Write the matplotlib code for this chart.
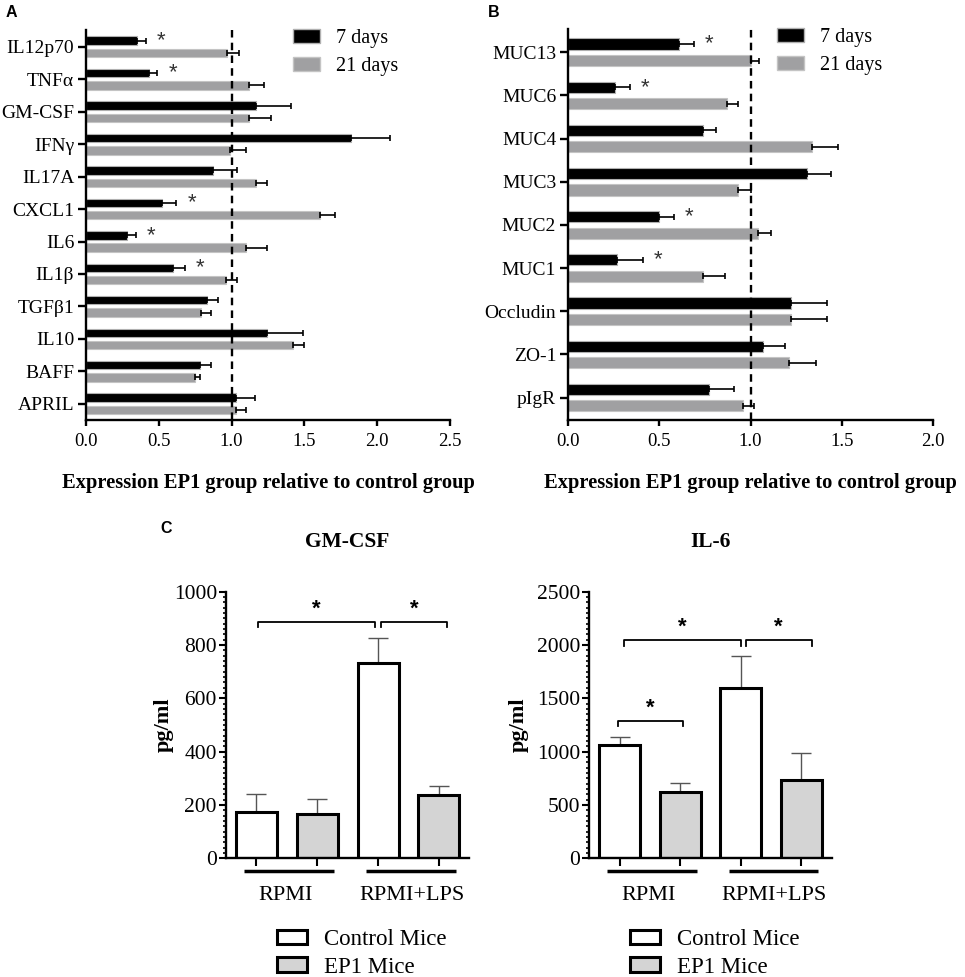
import matplotlib
matplotlib.use('Agg')
import matplotlib.pyplot as plt
import numpy as np
from matplotlib.patches import Patch
import matplotlib.transforms as mtransforms
from matplotlib.ticker import MultipleLocator

plt.rcParams['font.family'] = ['Liberation Serif', 'DejaVu Serif']

# ---------------- data ----------------
a_cats = ['IL12p70', 'TNFα', 'GM-CSF', 'IFNγ', 'IL17A', 'CXCL1', 'IL6', 'IL1β',
          'TGFβ1', 'IL10', 'BAFF', 'APRIL']
a_7d = [0.35, 0.43, 1.17, 1.82, 0.87, 0.52, 0.28, 0.60, 0.83, 1.24, 0.78, 1.03]
a_7d_err = [0.06, 0.06, 0.24, 0.27, 0.17, 0.10, 0.06, 0.08, 0.08, 0.25, 0.08, 0.13]
a_21d = [0.97, 1.12, 1.12, 0.99, 1.17, 1.61, 1.10, 0.96, 0.79, 1.42, 0.75, 1.03]
a_21d_err = [0.08, 0.10, 0.15, 0.11, 0.07, 0.10, 0.14, 0.08, 0.07, 0.08, 0.03, 0.07]
a_sig = ['IL12p70', 'TNFα', 'CXCL1', 'IL6', 'IL1β']
a_xticks = [0.0, 0.5, 1.0, 1.5, 2.0, 2.5]

b_cats = ['MUC13', 'MUC6', 'MUC4', 'MUC3', 'MUC2', 'MUC1', 'Occludin', 'ZO-1', 'pIgR']
b_7d = [0.61, 0.26, 0.74, 1.31, 0.50, 0.27, 1.22, 1.07, 0.77]
b_7d_err = [0.08, 0.08, 0.07, 0.13, 0.08, 0.14, 0.20, 0.12, 0.14]
b_21d = [1.00, 0.87, 1.335, 0.93, 1.04, 0.74, 1.22, 1.21, 0.96]
b_21d_err = [0.045, 0.06, 0.145, 0.07, 0.07, 0.12, 0.20, 0.15, 0.06]
b_sig = ['MUC13', 'MUC6', 'MUC2', 'MUC1']
b_xticks = [0.0, 0.5, 1.0, 1.5, 2.0]

series_labels = ['7 days', '21 days']

c_groups = ['RPMI', 'RPMI+LPS']
c_series = ['Control Mice', 'EP1 Mice']
gm_control = [172, 731]
gm_control_err = [70, 94]
gm_ep1 = [165, 237]
gm_ep1_err = [58, 35]
il6_control = [1062, 1594]
il6_control_err = [72, 306]
il6_ep1 = [624, 734]
il6_ep1_err = [85, 253]

# ---------------- figure ----------------
W, H = 965, 977
fig = plt.figure(figsize=(W / 100, H / 100), dpi=100)


def ax_px(l, t, r, b):
    return fig.add_axes([l / W, 1 - b / H, (r - l) / W, (b - t) / H])


BLACK = '#000000'
GRAY = '#a0a0a2'
LIGHT = '#d4d4d4'


def hbar_panel(ax, cats, v7, e7, v21, e21, sig, xticks, xmax, ylim_pad):
    n = len(cats)
    y = np.arange(n)
    off = 0.19
    h = 0.26
    ax.barh(y - off, v7, height=h, color=BLACK, edgecolor='#b0b0b0', linewidth=0.8,
            label=series_labels[0], zorder=2)
    ax.barh(y + off, v21, height=h, color=GRAY, edgecolor='#c4c4c4', linewidth=0.8,
            label=series_labels[1], zorder=2)
    z = np.zeros(n)
    ax.errorbar(v7, y - off, xerr=[z, e7], fmt='none', ecolor='black',
                elinewidth=1.2, capsize=2.5, capthick=1.2, zorder=3)
    ax.errorbar(v21, y + off, xerr=[z, e21], fmt='none', ecolor='black',
                elinewidth=1.2, capsize=2.5, capthick=1.2, zorder=3)
    for i, c in enumerate(cats):
        if c in sig:
            ax.annotate('*', xy=(v7[i] + e7[i], y[i] - off), xytext=(11, 0),
                        textcoords='offset points', ha='center', va='center',
                        fontsize=16, color='#333333', family='Liberation Sans')
    ax.axvline(1.0, color='black', lw=1.7, dashes=(3.2, 2.2), zorder=4)
    ax.set_xlim(0, xmax)
    ax.set_ylim(n - 1 + ylim_pad, -ylim_pad - 0.02)
    ax.set_yticks(y)
    ax.set_yticklabels(cats, fontsize=14)
    ax.set_xticks(xticks)
    ax.set_xticklabels([f'{t:.1f}' for t in xticks], fontsize=13.5)
    for s in ['top', 'right']:
        ax.spines[s].set_visible(False)
    for s in ['left', 'bottom']:
        ax.spines[s].set_linewidth(1.7)
    ax.tick_params(axis='y', length=6, width=1.7, pad=2.5)
    ax.tick_params(axis='x', length=4, width=1.7, pad=5)
    ax.text(0.5, -0.162, 'Expression EP1 group relative to control group',
            transform=ax.transAxes, ha='center', va='center', fontsize=14.8,
            fontweight='bold')


# Panel A
axA = ax_px(86, 30, 450, 420)
hbar_panel(axA, a_cats, a_7d, a_7d_err, a_21d, a_21d_err, a_sig, a_xticks, 2.5, 0.5)
hA = [Patch(facecolor=BLACK, edgecolor='#b0b0b0'), Patch(facecolor=GRAY, edgecolor='#c4c4c4')]
fig.legend(hA, series_labels, loc='upper left', bbox_to_anchor=(293 / W, 1 - 29 / H),
           frameon=False, fontsize=14.5, handlelength=1.35, handleheight=0.7,
           handletextpad=0.8, labelspacing=0.42, borderpad=0, borderaxespad=0)

# Panel B
axB = ax_px(568, 29, 933, 420)
hbar_panel(axB, b_cats, b_7d, b_7d_err, b_21d, b_21d_err, b_sig, b_xticks, 2.0, 0.52)
fig.legend(hA, series_labels, loc='upper left', bbox_to_anchor=(777 / W, 1 - 28 / H),
           frameon=False, fontsize=14.5, handlelength=1.35, handleheight=0.7,
           handletextpad=0.8, labelspacing=0.42, borderpad=0, borderaxespad=0)


# Panel C
def c_panel(ax, title, ctrl, ctrl_e, ep1, ep1_e, ymax, major, ylabel_x):
    pos_c = np.array([0, 2])
    pos_e = np.array([1, 3])
    w = 0.675
    ax.bar(pos_c, ctrl, width=w, color='white', edgecolor='black', linewidth=2.2, zorder=2)
    ax.bar(pos_e, ep1, width=w, color=LIGHT, edgecolor='black', linewidth=2.2, zorder=2)
    ax.errorbar(pos_c, ctrl, yerr=[np.zeros(2), ctrl_e], fmt='none', ecolor='#555555',
                elinewidth=1.0, capsize=7, capthick=1.0, zorder=1)
    ax.errorbar(pos_e, ep1, yerr=[np.zeros(2), ep1_e], fmt='none', ecolor='#555555',
                elinewidth=1.0, capsize=7, capthick=1.0, zorder=1)
    ax.set_xlim(-0.5, 3.5)
    ax.set_ylim(0, ymax)
    ax.yaxis.set_major_locator(MultipleLocator(major))
    ax.yaxis.set_minor_locator(MultipleLocator(major / 10))
    ax.set_xticks([0, 1, 2, 3])
    ax.set_xticklabels([])
    ax.tick_params(axis='y', which='major', length=5, width=1.5, labelsize=15.5, pad=1.5)
    ax.tick_params(axis='y', which='minor', length=2.5, width=1.2)
    ax.tick_params(axis='x', length=6, width=1.5)
    for s in ['top', 'right']:
        ax.spines[s].set_visible(False)
    for s in ['left', 'bottom']:
        ax.spines[s].set_linewidth(1.7)
    ax.text(0.5, 1.1665, title, transform=ax.transAxes, ha='center', va='baseline',
            fontsize=15.5, fontweight='bold')
    ax.text(ylabel_x, 0.5, 'pg/ml', transform=ax.transAxes, rotation=90,
            ha='center', va='center', fontsize=16, fontweight='bold')
    tr = mtransforms.blended_transform_factory(ax.transData, ax.transAxes)
    for (x1, x2), g, xc in zip([(-0.2, 1.28), (1.8, 3.28)], c_groups, [0.48, 2.55]):
        ax.plot([x1, x2], [-0.048, -0.048], color='black', lw=2.5, transform=tr,
                clip_on=False, solid_capstyle='butt')
        ax.text(xc, -0.138, g, transform=tr, ha='center', va='center', fontsize=16)


def bracket(ax, x1, x2, y, tail):
    ax.plot([x1, x1, x2, x2], [y - tail, y, y, y - tail], color='black', lw=1.3,
            zorder=3, clip_on=False)
    ax.annotate('*', xy=((x1 + x2) / 2, y), xytext=(0, 9), textcoords='offset points',
                ha='center', va='center', fontsize=16, fontweight='bold',
                family='Liberation Sans')


axC1 = ax_px(226, 591.7, 469.3, 858.3)
c_panel(axC1, 'GM-CSF', gm_control, gm_control_err, gm_ep1, gm_ep1_err, 1000, 200, -0.255)
bracket(axC1, 0.03, 1.95, 887, 18)
bracket(axC1, 2.05, 3.13, 887, 18)

axC2 = ax_px(589.3, 591.7, 831.7, 858.3)
c_panel(axC2, 'IL-6', il6_control, il6_control_err, il6_ep1, il6_ep1_err, 2500, 500, -0.29)
bracket(axC2, 0.07, 2.0, 2047, 54)
bracket(axC2, 2.08, 3.17, 2047, 54)
bracket(axC2, -0.03, 1.04, 1290, 54)

hC = [Patch(facecolor='white', edgecolor='black', linewidth=2.2),
      Patch(facecolor=LIGHT, edgecolor='black', linewidth=2.2)]
for xl in [277, 630]:
    fig.legend(hC, c_series, loc='upper left', bbox_to_anchor=(xl / W, 1 - 929 / H),
               frameon=False, fontsize=16.5, handlelength=1.3, handleheight=0.62,
               handletextpad=0.75, labelspacing=0.3, borderpad=0, borderaxespad=0)

# panel letters
for lbl, x, y in [('A', 6, 5), ('B', 488, 5), ('C', 160, 521)]:
    fig.text(x / W, 1 - y / H, lbl, ha='left', va='top', fontsize=11.5,
             fontweight='bold', family='Liberation Sans')

fig.savefig('out.png', dpi=100)
